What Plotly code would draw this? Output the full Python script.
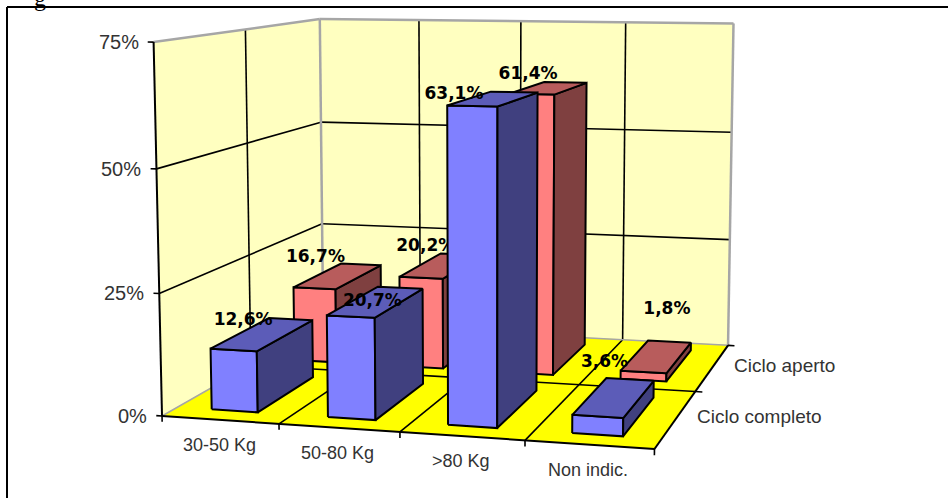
import numpy as np
import plotly.graph_objects as go

# Chart data
categories = ["30-50 Kg", "50-80 Kg", ">80 Kg", "Non indic."]
series_names = ["Ciclo completo", "Ciclo aperto"]
ciclo_completo = [12.6, 20.7, 63.1, 3.6]
ciclo_aperto = [16.7, 20.2, 61.4, 1.8]
value_ticks = [0, 25, 50, 75]

# Styling of the 3D box and its columns
WALL = "#FFFFC0"
FLOOR = "#FFFF00"
EDGE_GREY = "#A6A6A6"
BLUE = dict(front="#8080FF", top="#5C5CB8", side="#40407F")
RED = dict(front="#FF8080", top="#B85C5C", side="#7F4040")
BAR_WIDTH = 0.40
BAR_DEPTH = 0.68
Z_MAX = 75.0

# Pixel offsets of the value labels from the centre of each column top
completo_label_offset = [(-20, -13), (-4, 0), (-40, -4), (-10, -34)]
aperto_label_offset = [(-23, -18), (-16, -19), (-21, -13), (10, -47)]

# Calibration of the oblique view: box position -> page pixel
view_refs = [
    ((0, 0, 0), (162, 416)), ((4, 0, 0), (654, 449)), ((4, 2, 0), (727, 345)), ((0, 2, 0), (323, 325)),
    ((0, 0, 75), (153, 43)), ((0, 2, 75), (319, 19)), ((4, 2, 75), (733, 23)),
    ((0, 0, 50), (155, 168.5)), ((0, 0, 25), (160, 293)), ((4, 2, 25), (729, 239)), ((4, 2, 50), (731, 133)),
    ((0, 2, 25), (322, 223)), ((1, 0, 0), (280, 423)), ((2, 0, 0), (400, 432)), ((3, 0, 0), (525, 441)),
    ((1, 2, 75), (421, 21)), ((2, 2, 75), (521, 21)), ((3, 2, 75), (627, 22)),
    ((4, 1, 0), (697, 392)), ((0, 1, 75), (245, 29)),
]


def solve_view(refs):
    rows = []
    for (x, y, z), (u, v) in refs:
        w = [x, y, z / Z_MAX, 1.0]
        rows.append(w + [0, 0, 0, 0] + [-u / 948 * c for c in w])
        rows.append([0, 0, 0, 0] + w + [-v / 498 * c for c in w])
    return np.linalg.svd(np.array(rows))[2][-1].reshape(3, 4)


VIEW = solve_view(view_refs)


def project(x, y, z):
    p = VIEW @ np.array([x, y, z / Z_MAX, 1.0])
    return p[0] / p[2] * 948, p[1] / p[2] * 498


fig = go.Figure()


def face(points, fill, line="black", width=2):
    xy = [project(*p) for p in points]
    fig.add_trace(go.Scatter(
        x=[q[0] for q in xy] + [xy[0][0]], y=[q[1] for q in xy] + [xy[0][1]],
        mode="lines", fill="toself", fillcolor=fill,
        line=dict(color=line, width=width), hoverinfo="skip", showlegend=False))


def segment(a, b, color="black", width=1.6):
    xy = [project(*a), project(*b)]
    fig.add_trace(go.Scatter(
        x=[q[0] for q in xy], y=[q[1] for q in xy], mode="lines",
        line=dict(color=color, width=width), hoverinfo="skip", showlegend=False))


def column(i, row, value, colors, label, offset):
    x0, x1 = i + 0.5 - BAR_WIDTH / 2, i + 0.5 + BAR_WIDTH / 2
    y0, y1 = row + 0.5 - BAR_DEPTH / 2, row + 0.5 + BAR_DEPTH / 2
    face([(x0, y0, 0), (x1, y0, 0), (x1, y0, value), (x0, y0, value)], colors["front"])
    face([(x1, y0, 0), (x1, y1, 0), (x1, y1, value), (x1, y0, value)], colors["side"])
    face([(x0, y0, value), (x1, y0, value), (x1, y1, value), (x0, y1, value)], colors["top"])
    cx, cy = project(i + 0.5, row + 0.5, value)
    fig.add_trace(go.Scatter(
        x=[cx + offset[0]], y=[cy + offset[1]], mode="text", text=[label], textposition="middle center",
        textfont=dict(family="DejaVu Sans", size=17, color="black", weight="bold"),
        hoverinfo="skip", showlegend=False))


def pct(v):
    return f"{v:.1f}%".replace(".", ",")


# Walls and floor
face([(0, 0, 0), (0, 2, 0), (0, 2, Z_MAX), (0, 0, Z_MAX)], WALL, line=WALL, width=0.5)
face([(0, 2, 0), (4, 2, 0), (4, 2, Z_MAX), (0, 2, Z_MAX)], WALL, line=WALL, width=0.5)
face([(0, 0, 0), (4, 0, 0), (4, 2, 0), (0, 2, 0)], FLOOR, line=FLOOR, width=0.5)

# Grid on the walls
for t in value_ticks[1:-1]:
    segment((0, 0, t), (0, 2, t))
    segment((0, 2, t), (4, 2, t))
segment((0, 1, 0), (0, 1, Z_MAX))
for i in range(1, 4):
    segment((i, 2, 0), (i, 2, Z_MAX))

# Grid on the floor
for i in range(1, 4):
    segment((i, 0, 0), (i, 2, 0))
segment((0, 1, 0), (4, 1, 0))

# Box outline
segment((0, 0, Z_MAX), (0, 2, Z_MAX), EDGE_GREY, 2.5)
segment((0, 2, Z_MAX), (4, 2, Z_MAX), EDGE_GREY, 2.5)
segment((4, 2, Z_MAX), (4, 2, 0), EDGE_GREY, 2.5)
segment((0, 2, Z_MAX), (0, 2, 0), EDGE_GREY, 2.5)
segment((0, 0, 0), (0, 2, 0), EDGE_GREY, 1.5)
segment((0, 2, 0), (4, 2, 0), EDGE_GREY, 1.5)
segment((0, 0, Z_MAX), (0, 0, 0), "black", 2)
segment((0, 0, 0), (4, 0, 0), "black", 2)
segment((4, 0, 0), (4, 2, 0), "black", 2)

# Tick marks
for t in value_ticks:
    segment((-0.05, 0, t), (0, 0, t), "black", 1.6)
for i in range(0, 5):
    segment((i, 0, -1.2), (i, 0, 0), "black", 1.6)
for j in range(1, 3):
    segment((4, j, 0), (4.06, j, 0), "black", 1.6)

# Columns, back row first
for i, v in enumerate(ciclo_aperto):
    column(i, 1, v, RED, pct(v), aperto_label_offset[i])
for i, v in enumerate(ciclo_completo):
    column(i, 0, v, BLUE, pct(v), completo_label_offset[i])

# Axis labels
notes = []
for t in value_ticks:
    px, py = project(0, 0, t)
    notes.append(dict(x=px - 13, y=py, text=f"{t}%", xanchor="right", yanchor="middle", showarrow=False,
                      font=dict(family="Liberation Sans", size=20, color="#333333")))
for i, name in enumerate(categories):
    px, py = project(i + 0.5, 0, 0)
    notes.append(dict(x=px - 1, y=py + 25, text=name, xanchor="center", yanchor="middle", showarrow=False,
                      font=dict(family="Liberation Sans", size=18, color="#333333")))
for j, name in enumerate(series_names):
    px, py = project(4, j + 0.5, 0)
    notes.append(dict(x=px + 19, y=py - 2, text=name, xanchor="left", yanchor="middle", showarrow=False,
                      font=dict(family="Liberation Sans", size=19, color="#333333")))
# Tail of the caption line sitting above the frame
notes.append(dict(x=40 / 948, y=1.004, xref="paper", yref="paper", text="g", xanchor="center", yanchor="middle",
                  showarrow=False, font=dict(family="Liberation Serif", size=24, color="black")))

fig.update_layout(
    width=948, height=498, margin=dict(l=0, r=0, t=0, b=0), showlegend=False,
    paper_bgcolor="white", plot_bgcolor="white", annotations=notes,
    xaxis=dict(range=[0, 948], visible=False, fixedrange=True),
    yaxis=dict(range=[498, 0], visible=False, fixedrange=True),
    shapes=[dict(type="line", x0=7, x1=948, y0=7, y1=7, line=dict(color="black", width=2)),
            dict(type="line", x0=7, x1=7, y0=7, y1=498, line=dict(color="black", width=2))])
fig.write_html("out.html")
